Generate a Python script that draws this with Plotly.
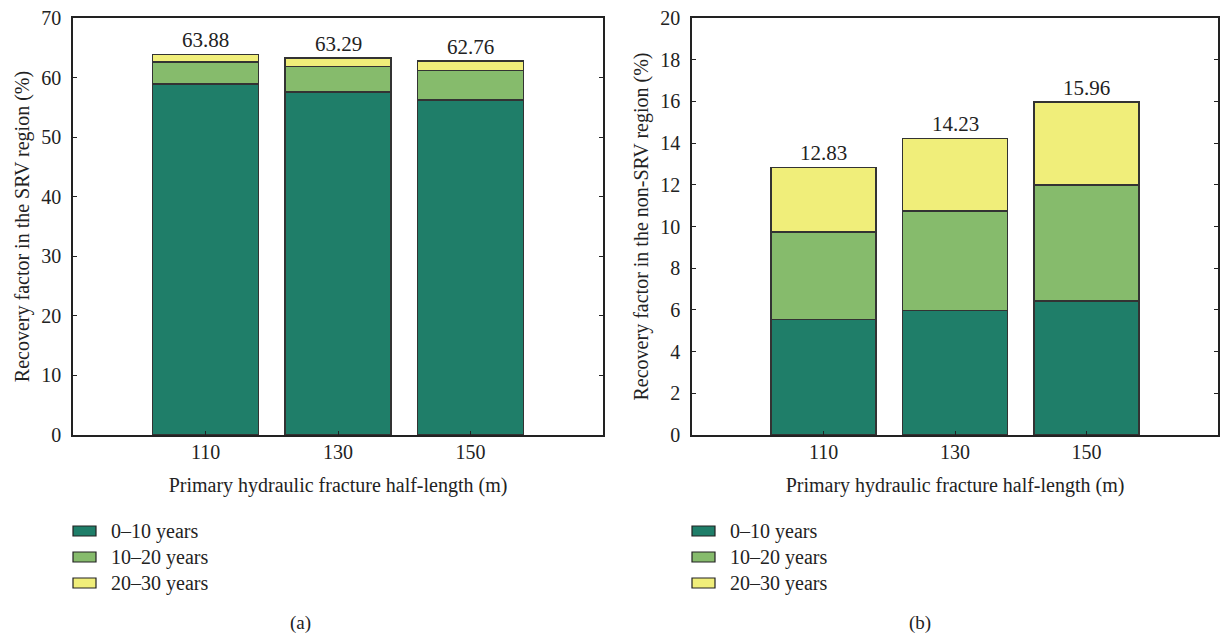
import plotly.graph_objects as go

# ---- data ----
categories = ["110", "130", "150"]
series_names = ["0\u201310 years", "10\u201320 years", "20\u201330 years"]

srv_0_10 = [58.9, 57.6, 56.2]
srv_10_20 = [3.7, 4.3, 5.0]
srv_20_30 = [1.28, 1.39, 1.56]
srv_totals = ["63.88", "63.29", "62.76"]
srv_total_vals = [63.88, 63.29, 62.76]

nonsrv_0_10 = [5.55, 5.96, 6.43]
nonsrv_10_20 = [4.19, 4.78, 5.55]
nonsrv_20_30 = [3.09, 3.49, 3.98]
nonsrv_totals = ["12.83", "14.23", "15.96"]
nonsrv_total_vals = [12.83, 14.23, 15.96]

colors = ["#1f7e69", "#86bb6c", "#f0ee7a"]
FONT = "Liberation Serif"
FS = 20
W, H = 1220, 637

xpos = list(range(len(categories)))

fig = go.Figure()

for vals, name, col in zip([srv_0_10, srv_10_20, srv_20_30], series_names, colors):
    fig.add_trace(go.Bar(x=xpos, y=vals, name=name, marker=dict(color=col, line=dict(color="#333333", width=1.5)),
                         width=0.8, xaxis="x", yaxis="y", showlegend=False))
for vals, name, col in zip([nonsrv_0_10, nonsrv_10_20, nonsrv_20_30], series_names, colors):
    fig.add_trace(go.Bar(x=xpos, y=vals, name=name, marker=dict(color=col, line=dict(color="#333333", width=1.5)),
                         width=0.8, xaxis="x2", yaxis="y2", showlegend=False))

y0 = 1 - 435 / H
y1 = 1 - 18 / H
axis_common = dict(showline=True, linecolor="#222", linewidth=1.5, ticks="inside", ticklen=4,
                   tickcolor="#222", showgrid=False, zeroline=False, automargin=False,
                   tickfont=dict(family=FONT, size=FS, color="#222"))
xcommon = dict(axis_common, tickmode="array", tickvals=xpos, ticktext=categories, range=[-1, 3], mirror=True,
               ticklabelstandoff=-2,
               title=dict(text="Primary hydraulic fracture half-length (m)", font=dict(family=FONT, size=FS, color="#222"), standoff=16))

fig.update_layout(
    width=W, height=H, margin=dict(l=0, r=0, t=0, b=0, autoexpand=False),
    paper_bgcolor="white", plot_bgcolor="white", barmode="stack",
    font=dict(family=FONT, color="#222"),
    xaxis=dict(xcommon, domain=[73 / W, 603 / W], anchor="y"),
    yaxis=dict(axis_common, domain=[y0, y1], range=[0, 70], dtick=10, mirror="ticks", anchor="x",
               ticklabelstandoff=6,
               title=dict(text="Recovery factor in the SRV region (%)", font=dict(family=FONT, size=FS, color="#222"), standoff=6)),
    xaxis2=dict(xcommon, domain=[692 / W, 1218 / W], anchor="y2"),
    yaxis2=dict(axis_common, domain=[y0, y1], range=[0, 20], dtick=2, mirror="ticks", anchor="x2",
                ticklabelstandoff=6,
                title=dict(text="Recovery factor in the non-SRV region (%)", font=dict(family=FONT, size=FS, color="#222"), standoff=6)),
)

shapes = []
annotations = []
for xr, yr, vals, txts in [("x", "y", srv_total_vals, srv_totals), ("x2", "y2", nonsrv_total_vals, nonsrv_totals)]:
    for xi, v, t in zip(xpos, vals, txts):
        annotations.append(dict(xref=xr, yref=yr, x=xi, y=v, text=t, showarrow=False, xanchor="center",
                                yanchor="bottom", yshift=0, font=dict(family=FONT, size=FS + 1, color="#222")))

legend_rows = [531, 557, 583]
for left_px in [73, 692]:
    for name, col, yc in zip(series_names, colors, legend_rows):
        shapes.append(dict(type="rect", xref="paper", yref="paper",
                           x0=left_px / W, x1=(left_px + 23) / W,
                           y0=1 - (yc + 5) / H, y1=1 - (yc - 5) / H,
                           fillcolor=col, line=dict(color="#222", width=1.2)))
        annotations.append(dict(xref="paper", yref="paper", x=(left_px + 36) / W, y=1 - yc / H,
                                text=name, showarrow=False, xanchor="left", yanchor="middle",
                                font=dict(family=FONT, size=FS, color="#222")))

annotations.append(dict(xref="paper", yref="paper", x=300 / W, y=1 - 623 / H, text="(a)", showarrow=False,
                        xanchor="center", yanchor="middle", font=dict(family=FONT, size=FS - 1, color="#222")))
annotations.append(dict(xref="paper", yref="paper", x=920 / W, y=1 - 623 / H, text="(b)", showarrow=False,
                        xanchor="center", yanchor="middle", font=dict(family=FONT, size=FS - 1, color="#222")))

fig.update_layout(shapes=shapes, annotations=annotations)
fig.write_html("out.html")
